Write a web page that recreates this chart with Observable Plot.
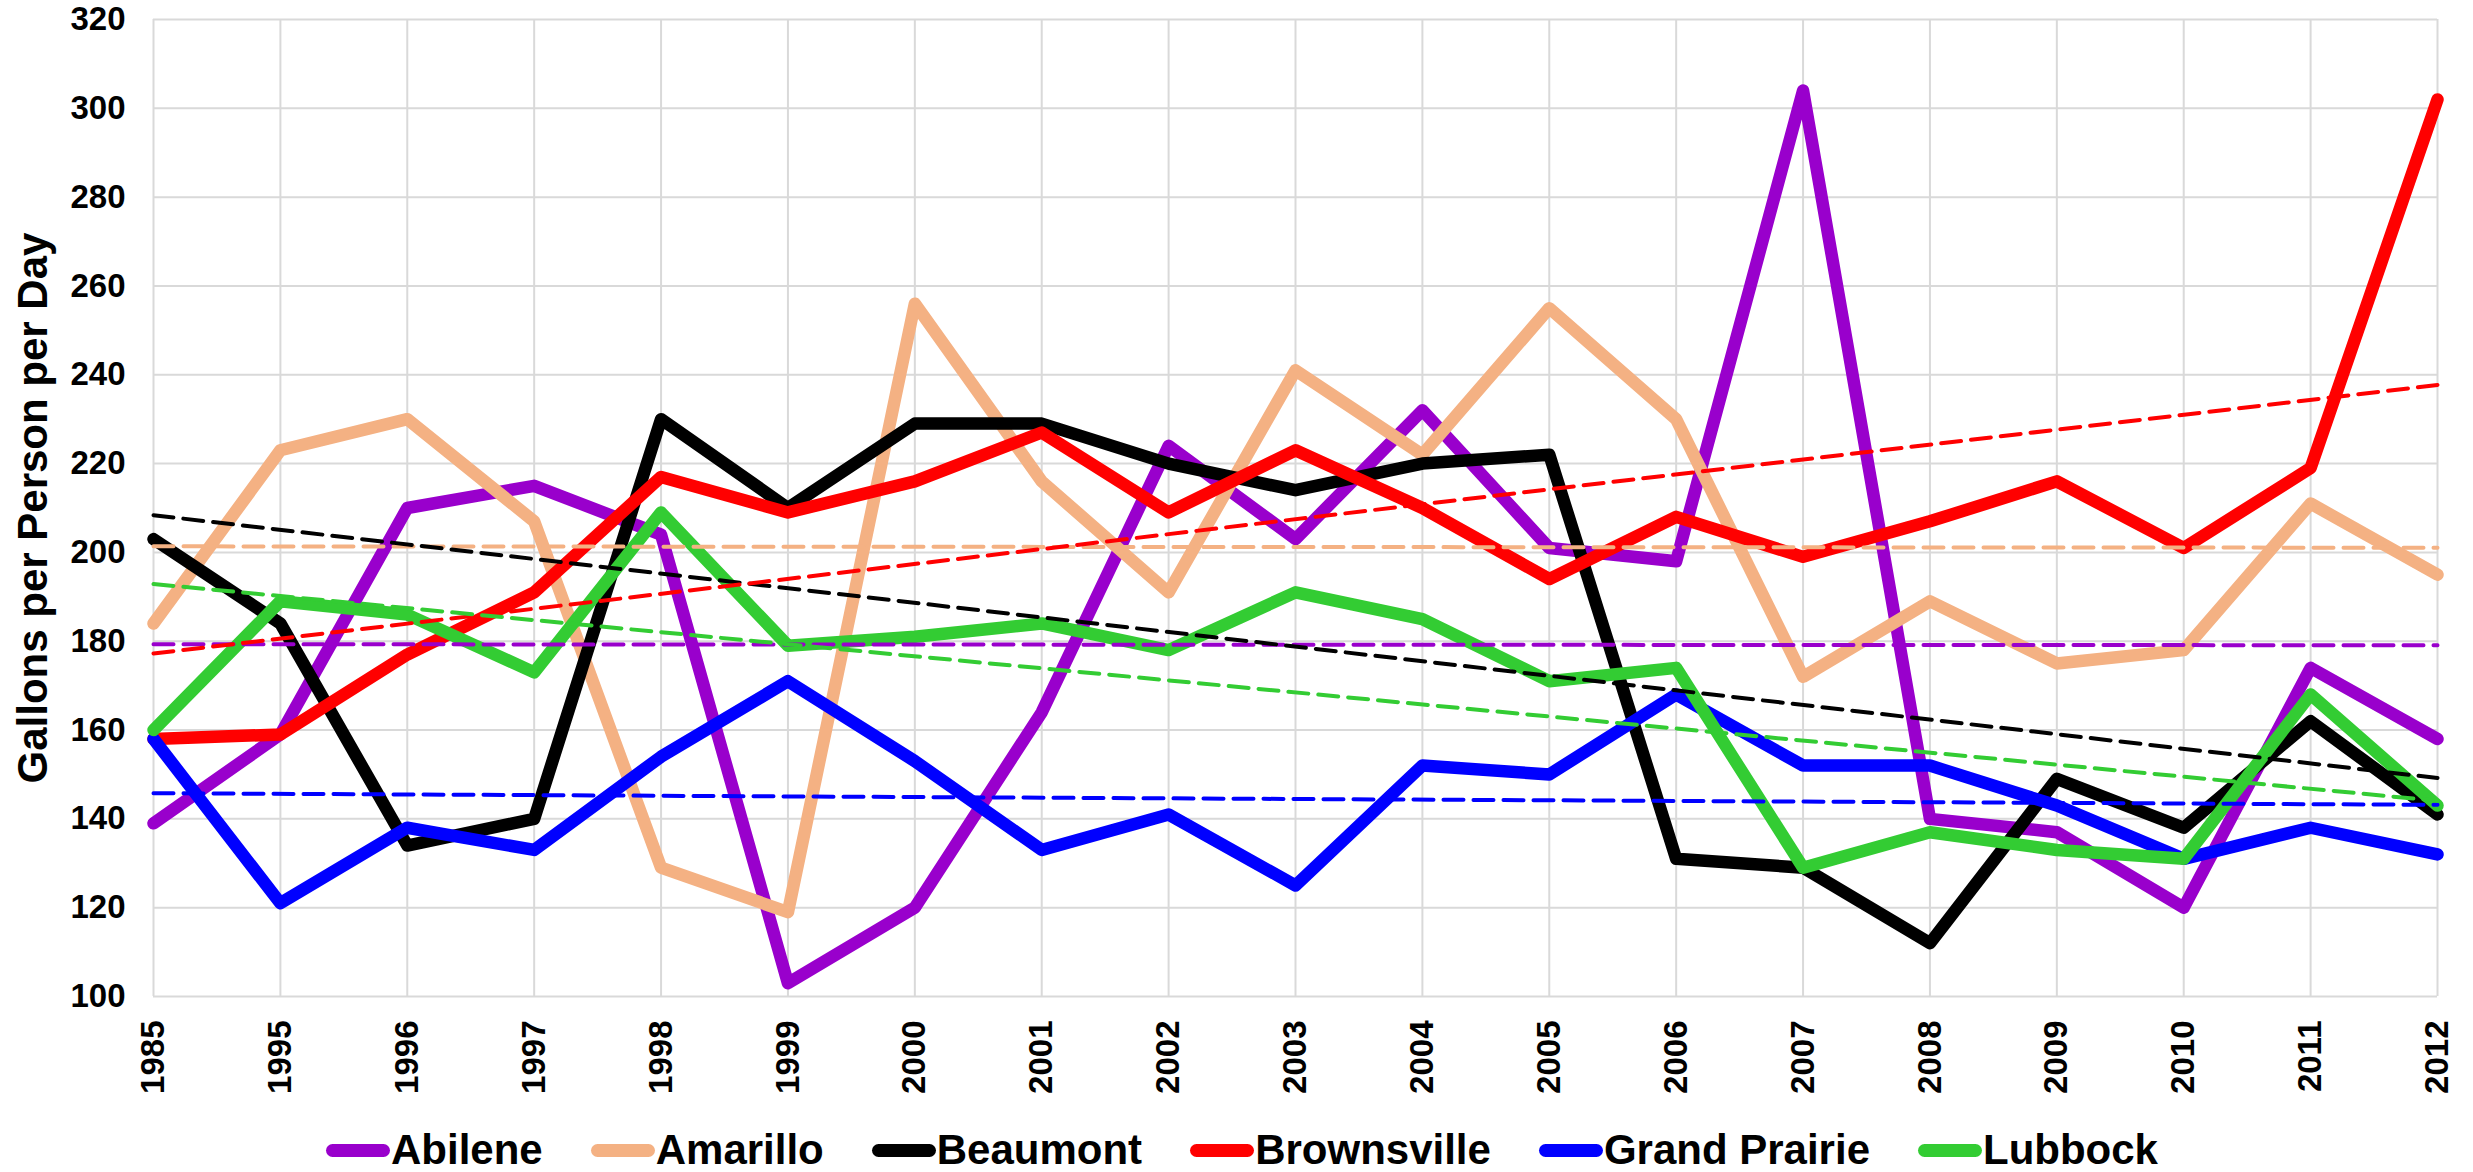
<!DOCTYPE html>
<html><head><meta charset="utf-8">
<script src="https://cdn.jsdelivr.net/npm/d3@7"></script>
<script src="https://cdn.jsdelivr.net/npm/@observablehq/plot@0.6"></script>
<style>
html,body{margin:0;padding:0;background:#fff;}
#wrap{position:relative;width:2473px;height:1172px;overflow:hidden;font-family:'Liberation Sans',Arial,sans-serif;}
#legend{position:absolute;left:0;top:1120px;width:2473px;height:60px;display:flex;justify-content:center;align-items:center;font-weight:bold;font-size:42px;line-height:1;color:#000;padding-left:11px;box-sizing:border-box;}
.item{display:flex;align-items:center;margin:0 24px;}
.sw{width:64px;height:13px;border-radius:7px;margin-right:1px;}
</style></head><body><div id="wrap"><div id="chart"></div><div id="legend"></div></div>
<script>
const years = ["1985","1995","1996","1997","1998","1999","2000","2001","2002","2003","2004","2005","2006","2007","2008","2009","2010","2011","2012"];
const cities = ["Abilene","Amarillo","Beaumont","Brownsville","Grand Prairie","Lubbock"];
const colors = ["#9900CC","#F4B183","#000000","#FF0000","#0000FF","#33CC33"];
const abilene      = [139,159,210,215,204,103,120,164,224,203,232,201,198,304,140,137,120,174,158];
const amarillo     = [184,223,230,207,129,119,256,216,191,241,222,255,230,172,189,175,178,211,195];
const beaumont     = [203,184,134,140,230,210,229,229,220,214,220,222,131,129,112,149,138,162,141];
const brownsville  = [158,159,177,191,217,209,216,227,209,223,210,194,208,199,207,216,201,219,302];
const grandPrairie = [158,121,138,133,154,171,153,133,141,125,152,150,168,152,152,143,131,138,132];
const lubbock      = [160,189,186,173,209,179,181,184,178,191,185,171,174,129,137,133,131,168,143];
const yTicks = [100,120,140,160,180,200,220,240,260,280,300,320];

const series = [abilene, amarillo, beaumont, brownsville, grandPrairie, lubbock];
const data = cities.flatMap((c, k) => series[k].map((v, i) => ({city: c, i, v})));
const xIdx = years.map((_, i) => i);

const chart = Plot.plot({
  width: 2473, height: 1100,
  marginLeft: 153, marginRight: 36, marginTop: 19, marginBottom: 104,
  style: {fontFamily: "'Liberation Sans', Arial, sans-serif", fontWeight: "bold", color: "#000", background: "#fff", overflow: "visible"},
  x: {type: "linear", domain: [0, years.length - 1]},
  y: {domain: [100, 320]},
  color: {domain: cities, range: colors},
  marks: [
    Plot.gridX(xIdx, {stroke: "#d9d9d9", strokeOpacity: 1, strokeWidth: 2}),
    Plot.gridY(yTicks, {stroke: "#d9d9d9", strokeOpacity: 1, strokeWidth: 2}),
    Plot.line(data, {x: "i", y: "v", z: "city", stroke: "city", strokeWidth: 12.5, strokeLinejoin: "round", strokeLinecap: "round"}),
    Plot.linearRegressionY(data, {x: "i", y: "v", stroke: "city", ci: 0, strokeWidth: 4, strokeDasharray: "20,10"}),
    Plot.axisX(xIdx, {tickFormat: i => years[i], tickRotate: -90, tickSize: 0, tickPadding: 24, fontSize: 33, fontWeight: "bold", label: null}),
    Plot.axisY(yTicks, {tickSize: 0, tickPadding: 28, fontSize: 33, fontWeight: "bold", label: "Gallons per Person per Day", labelAnchor: "center", labelArrow: "none", labelOffset: 136})
  ]
});
document.getElementById("chart").appendChild(chart);
const lab = chart.querySelector('g[aria-label="y-axis label"] text');
if (lab) { lab.style.fontSize = "42px"; }

const legend = d3.select("#legend");
cities.forEach((c, k) => {
  const it = legend.append("div").attr("class", "item");
  it.append("div").attr("class", "sw").style("background", colors[k]);
  it.append("span").text(c);
});
</script></body></html>
